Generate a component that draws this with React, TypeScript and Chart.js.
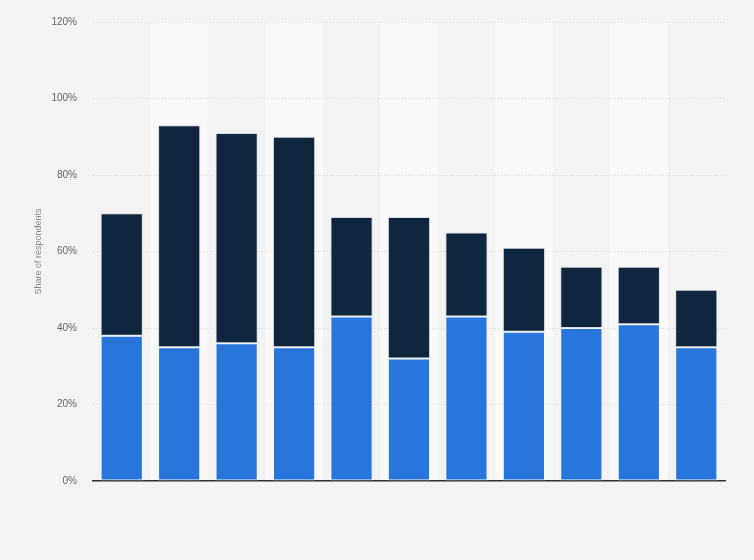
import React, { useEffect, useRef } from "react";
import { Chart, registerables } from "chart.js";

Chart.register(...registerables);

const categories = ["1", "2", "3", "4", "5", "6", "7", "8", "9", "10", "11"];
const blueValues = [38, 35, 36, 35, 43, 32, 43, 39, 40, 41, 35];
const navyValues = [32, 58, 55, 55, 26, 37, 22, 22, 16, 15, 15];
const yTicks = [0, 20, 40, 60, 80, 100, 120];
const yTitle = "Share of respondents";

const BG = "#f3f3f3";
const BAND = "#f9f9f9";

const bandPlugin = {
  id: "bands",
  beforeDraw(chart: any) {
    const { ctx, chartArea, scales } = chart;
    ctx.save();
    ctx.fillStyle = BG;
    ctx.fillRect(0, 0, chart.width, chart.height);
    const x = scales.x;
    const n = categories.length;
    const w = (chartArea.right - chartArea.left) / n;
    ctx.fillStyle = BAND;
    for (let i = 0; i < n; i++) {
      if (i % 2 === 1) {
        const cx = x.getPixelForValue(i);
        ctx.fillRect(cx - w / 2, chartArea.top, w, chartArea.bottom - chartArea.top);
      }
    }
    ctx.restore();
  },
};

export default function App() {
  const ref = useRef<HTMLCanvasElement | null>(null);
  useEffect(() => {
    document.body.style.margin = "0";
    document.body.style.background = BG;
    const canvas = ref.current;
    if (!canvas) return;
    const chart = new Chart(canvas, {
      type: "bar",
      data: {
        labels: categories,
        datasets: [
          {
            data: blueValues,
            backgroundColor: "#2876dc",
            borderColor: "rgba(255,255,255,0.55)",
            borderWidth: 1,
            borderSkipped: false,
          },
          {
            data: navyValues,
            backgroundColor: "#0f263e",
            borderColor: "rgba(200,210,220,0.7)",
            borderWidth: 1,
            borderSkipped: false,
          },
        ],
      },
      options: {
        animation: false,
        responsive: false,
        maintainAspectRatio: false,
        layout: { padding: { left: 0, right: 29, top: 20, bottom: 79 } },
        plugins: { legend: { display: false }, tooltip: { enabled: false } },
        datasets: { bar: { categoryPercentage: 1, barPercentage: 0.735 } },
        scales: {
          x: {
            stacked: true,
            grid: { display: false },
            ticks: { display: false },
            border: { display: true, color: "#333333", width: 1.5 },
            afterFit: (s: any) => {
              s.height = 0;
            },
          },
          y: {
            stacked: true,
            min: 0,
            max: 120,
            afterBuildTicks: (s: any) => {
              s.ticks = yTicks.map((v) => ({ value: v }));
            },
            ticks: {
              padding: 16,
              color: "#666666",
              font: { family: "'Liberation Sans', Arial, sans-serif", size: 10 },
              callback: (v: any) => v + "%",
            },
            grid: {
              color: "#d6d6d6",
              drawTicks: false,
            },
            border: { display: false, dash: [1, 2] },
            title: {
              display: true,
              text: yTitle,
              color: "#888888",
              font: { family: "'Liberation Sans', Arial, sans-serif", size: 9 },
              padding: { top: 33, bottom: 0 },
            },
            afterFit: (s: any) => {
              s.width = 93;
            },
          },
        },
      },
      plugins: [bandPlugin],
    });
    return () => chart.destroy();
  }, []);
  return (
    <div style={{ width: 754, height: 560, background: BG }}>
      <canvas ref={ref} width={754} height={560} style={{ display: "block" }} />
    </div>
  );
}
